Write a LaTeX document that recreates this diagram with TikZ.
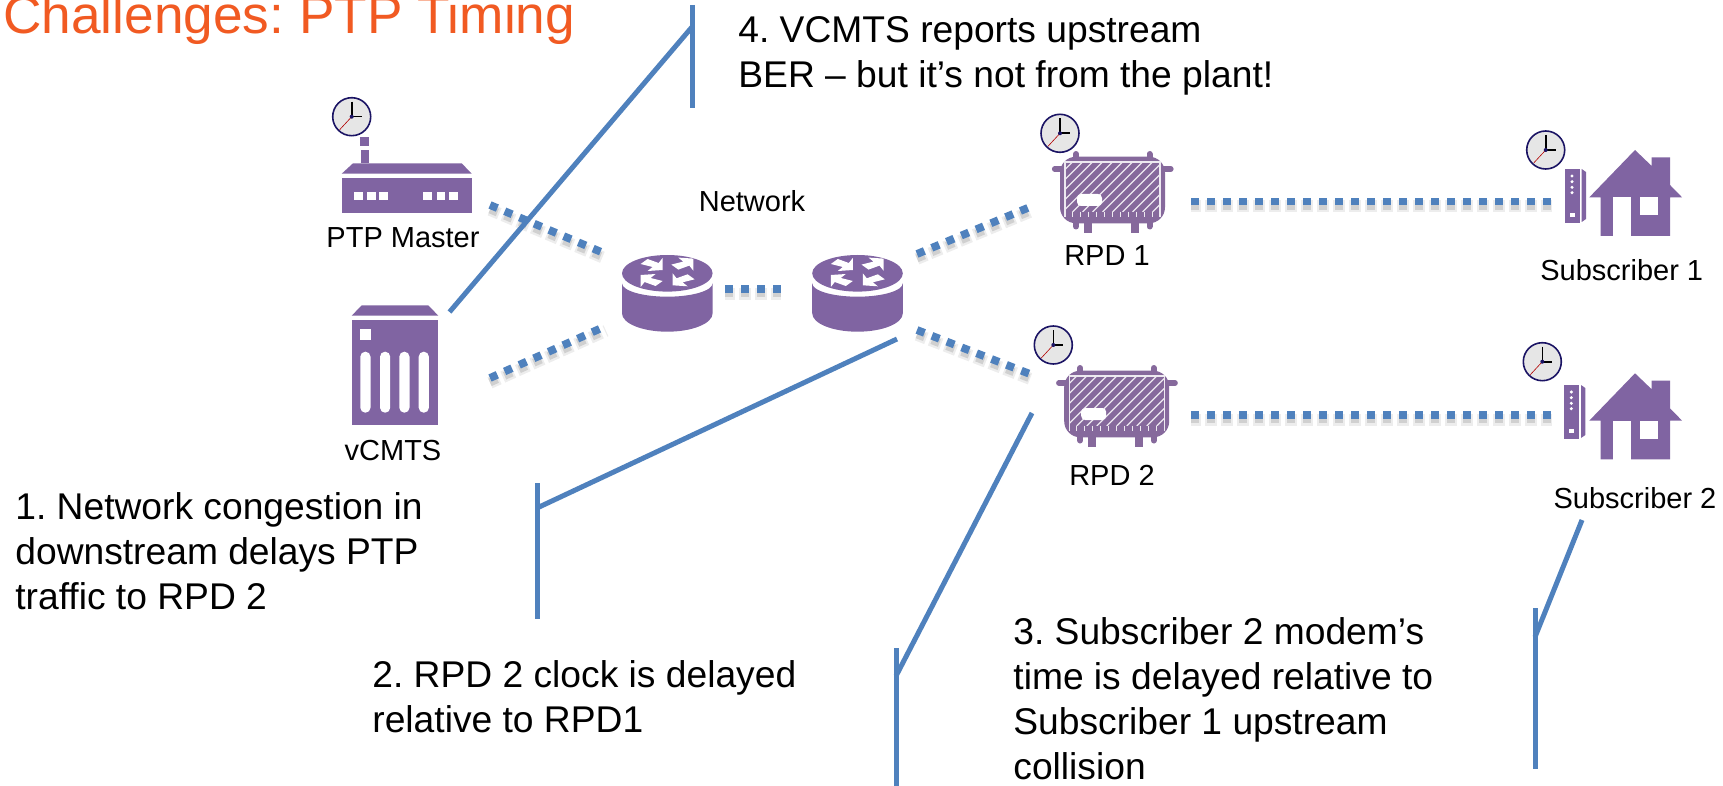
\documentclass[tikz,border=0pt]{standalone}
\usepackage{fontspec}
\setmainfont{Liberation Sans}
\frenchspacing
\usetikzlibrary{positioning}

\definecolor{iconpurple}{HTML}{8064A2}
\definecolor{rpdpurple}{HTML}{86699C}
\definecolor{linkblue}{HTML}{4F81BD}
\definecolor{titleorange}{HTML}{F15A22}
\definecolor{clockface}{HTML}{E6E6E6}
\definecolor{clockrim}{HTML}{1B1464}

\tikzset{
    devicelabel/.style={font=\fontsize{14.5}{17}\selectfont, anchor=base},
    notetext/.style={font=\fontsize{18.6}{22.5}\selectfont, align=left, anchor=north west, inner sep=0pt},
    dotlink/.style={line width=3.9pt, linkblue, dash pattern=on 4pt off 4pt,
        preaction={draw=black, opacity=0.07, line width=6pt, dash pattern=on 6pt off 2pt, dash phase=1pt, transform canvas={yshift=-2.4pt}},
        preaction={draw=black, opacity=0.12, line width=4pt, dash pattern=on 4pt off 4pt, transform canvas={yshift=-2.2pt}}},
    callout/.style={line width=2.5pt, linkblue},
    clockicon/.pic={
        \fill[clockface] (0,0) circle (19);
        \draw[clockrim, line width=0.8pt] (0,0) circle (19);
        \draw[red!70!black, line width=0.3pt] (0,0) -- (-12,13);
        \draw[black, line width=0.8pt] (0,-15) -- (0,0) -- (10,0);
        \fill[clockrim] (0,0) circle (2);
    },
    routericon/.pic={
        \fill[iconpurple] (-45.3,10) arc[start angle=180, end angle=0, x radius=45.3, y radius=13.4]
            -- (45.3,40) arc[start angle=0, end angle=180, x radius=45.3, y radius=18.4] -- cycle;
        \fill[iconpurple] (0,0) ellipse[x radius=45.3, y radius=18.3];
        \foreach \ax/\ay/\sx/\sy in {-4.7/-3.3/1/1, 5.3/12/-1/1, 26/-14.7/1/-1, -26.7/1.7/-1/-1}
            \fill[white, shift={(\ax,\ay)}, xscale=\sx, yscale=\sy]
                (0,0) -- (-15,1) -- (-10,-3) -- (-22,-6) -- (-15,-11) -- (-4,-7) -- (0,-12) -- cycle;
    },
    rpdicon/.pic={
        \fill[rpdpurple, rounded corners=8pt] (-52.5,-33.3) rectangle (52.5,33.3);
        \foreach \bx in {-36.5,37} {
            \draw[rpdpurple, line width=3pt, line cap=round] (\bx,-36) -- (\bx,-30);
            \draw[rpdpurple, line width=3pt, line cap=round] (\bx,30) -- (\bx,36.5);
        }
        \foreach \bx in {-24.5,22.5} \fill[rpdpurple] (\bx-4,30) rectangle (\bx+4,43);
        \draw[rpdpurple, line width=2.6pt, line cap=round] (-58,-21) -- (-50,-21);
        \draw[rpdpurple, line width=2.6pt, line cap=round] (50,-21) -- (58.5,-21);
        \begin{scope}
            \clip (-47.5,-28) rectangle (47.5,21.7);
            \foreach \hx in {-100,-90,...,50}
                \draw[white!85!rpdpurple, line width=0.6pt] (\hx,22) -- (\hx+50,-28);
        \end{scope}
        \foreach \hx in {-40,-32,...,46}
            \draw[white!85!rpdpurple, line width=0.6pt] (\hx,21.7) -- (\hx,27);
        \draw[white!85!rpdpurple, line width=0.6pt] (-47.5,27) -- (-47.5,-28) -- (47.5,-28) -- (47.5,27);
        \fill[white, rounded corners=2pt] (-35.5,4) rectangle (-10.5,16);
    },
    modemicon/.pic={
        \fill[iconpurple] (0,0) rectangle (15,53.7);
        \fill[iconpurple] (16.7,0) -- (21,3) -- (21,50) -- (16.7,53) -- cycle;
        \foreach \dy in {7,12.7,18.3,23.7} \fill[white] (7,\dy) circle (1.7);
        \fill[white] (5,43.7) rectangle (9.7,48.3);
    },
    houseicon/.pic={
        \fill[iconpurple] (0,0) -- (-45.7,47.3) -- (-34.3,47.3) -- (-34.3,86) -- (35,86) -- (35,47.3)
            -- (47,47.3) -- (35,35) -- (35,7.3) -- (16.7,7.3) -- (16.7,16) -- cycle;
        \fill[white] (-22.3,47.3) rectangle (-4,86.5);
        \fill[white] (5,47.3) rectangle (23.3,65.3);
    },
}

\begin{document}
\begin{tikzpicture}[x=0.5pt, y=-0.5pt]
    \useasboundingbox (0,0) rectangle (1723,786);
    \clip (0,0) rectangle (1723,786);

    % title
    \node (title) [font=\fontsize{26.6}{30}\selectfont, text=titleorange, anchor=base west, inner sep=0pt] at (3,34) {Challenges: PTP Timing};

    % ptp master
    \fill[iconpurple] (360.7,150) rectangle (369,163);
    \fill[iconpurple] (360,136.7) rectangle (369,145.7);
    \fill[iconpurple] (353,163.3) -- (461.7,163.3) -- (471.7,173.7) -- (341.7,173.7) -- cycle;
    \fill[iconpurple] (341.7,177.7) rectangle (472,213.3);
    \foreach \wx in {354,367.3,379.3,423.3,436.7,449.3}
        \fill[white] (\wx,191.7) rectangle (\wx+8.7,200);
    \pic at (351.7,116.7) {clockicon};
    \node (masterlabel) [devicelabel] at (403,248) {PTP Master};

    % vcmts
    \fill[iconpurple] (361.7,305.3) -- (428.3,305.3) -- (438.3,315.7) -- (351.7,315.7) -- cycle;
    \fill[iconpurple] (351.7,320) rectangle (438.3,425);
    \fill[white] (360.3,329.3) rectangle (371,340);
    \foreach \sx in {360.3,380,399.3,418.7}
        \fill[white, rounded corners=2.5pt] (\sx,351.7) rectangle (\sx+10.2,412.7);
    \node (vcmtslabel) [devicelabel] at (393,460) {vCMTS};

    % routers
    \pic at (667.3,273.3) {routericon};
    \pic at (857.5,273.3) {routericon};
    \node (networklabel) [devicelabel] at (752,212) {Network};

    % rpds
    \pic at (1112.5,190) {rpdicon};
    \pic at (1060,133.3) {clockicon};
    \node (rpdonelabel) [devicelabel] at (1107,265) {RPD 1};
    \pic at (1116.7,404) {rpdicon};
    \pic at (1053.3,345) {clockicon};
    \node (rpdtwolabel) [devicelabel] at (1112,485) {RPD 2};

    % subscribers
    \pic at (1565,169) {modemicon};
    \pic at (1635,150) {houseicon};
    \pic at (1545.7,150) {clockicon};
    \node (subonelabel) [devicelabel] at (1621.7,280) {Subscriber 1};
    \pic at (1564.3,385) {modemicon};
    \pic at (1635,373.3) {houseicon};
    \pic at (1542.3,361.7) {clockicon};
    \node (subtwolabel) [devicelabel] at (1635,508) {Subscriber 2};

    % ends of the links
    \coordinate (masterport) at (490,205);
    \coordinate (vcmtsport) at (490,378);
    \coordinate (routeraleft) at (606,254);
    \coordinate (routeralow) at (606,326);
    \coordinate (routerar) at (725,289);
    \coordinate (routerbl) at (781,289);
    \coordinate (routerbtop) at (917,254);
    \coordinate (routerblow) at (917,330);
    \coordinate (rpdonein) at (1030,207);
    \coordinate (rpdtwoin) at (1030,374);
    \coordinate (rpdoneout) at (1191,201.5);
    \coordinate (rpdtwoout) at (1191,415);
    \coordinate (subonein) at (1551.5,201.5);
    \coordinate (subtwoin) at (1551.5,415);

    \draw[dotlink] (masterport) -- (routeraleft);
    \draw[dotlink] (vcmtsport) -- (routeralow);
    \draw[dotlink] (routerar) -- (routerbl);
    \draw[dotlink] (routerbtop) -- (rpdonein);
    \draw[dotlink] (routerblow) -- (rpdtwoin);
    \draw[dotlink] (rpdoneout) -- (subonein);
    \draw[dotlink] (rpdtwoout) -- (subtwoin);

    % callouts
    \coordinate (calloutaend) at (449.5,312);
    \coordinate (calloutaknee) at (692,27);
    \coordinate (calloutatop) at (692,5);
    \coordinate (calloutabot) at (692,108);
    \draw[callout] (calloutaend) -- (calloutaknee);
    \draw[callout] (calloutatop) -- (calloutabot);

    \coordinate (calloutbend) at (897,339);
    \coordinate (calloutbknee) at (537,508);
    \coordinate (calloutbtop) at (537,483);
    \coordinate (calloutbbot) at (537,619);
    \draw[callout] (calloutbend) -- (calloutbknee);
    \draw[callout] (calloutbtop) -- (calloutbbot);

    \coordinate (calloutcend) at (1032,413);
    \coordinate (calloutcknee) at (896,676);
    \coordinate (calloutctop) at (896,648);
    \coordinate (calloutcbot) at (896,786);
    \draw[callout] (calloutcend) -- (calloutcknee);
    \draw[callout] (calloutctop) -- (calloutcbot);

    \coordinate (calloutdend) at (1582,520);
    \coordinate (calloutdknee) at (1535,637);
    \coordinate (calloutdtop) at (1535,608);
    \coordinate (calloutdbot) at (1535,769);
    \draw[callout] (calloutdend) -- (calloutdknee);
    \draw[callout] (calloutdtop) -- (calloutdbot);

    % notes
    \node (noteone) [notetext] at (15,492.5) {1. Network congestion in\\downstream delays PTP\\traffic to RPD 2};
    \node (notetwo) [notetext] at (372,660) {2. RPD 2 clock is delayed\\relative to RPD1};
    \node (notethree) [notetext] at (1013,617) {3. Subscriber 2 modem’s\\time is delayed relative to\\Subscriber 1 upstream\\collision};
    \node (notefour) [notetext] at (738,16.5) {4. VCMTS reports upstream\\BER – but it’s not from the plant!};
\end{tikzpicture}
\end{document}
